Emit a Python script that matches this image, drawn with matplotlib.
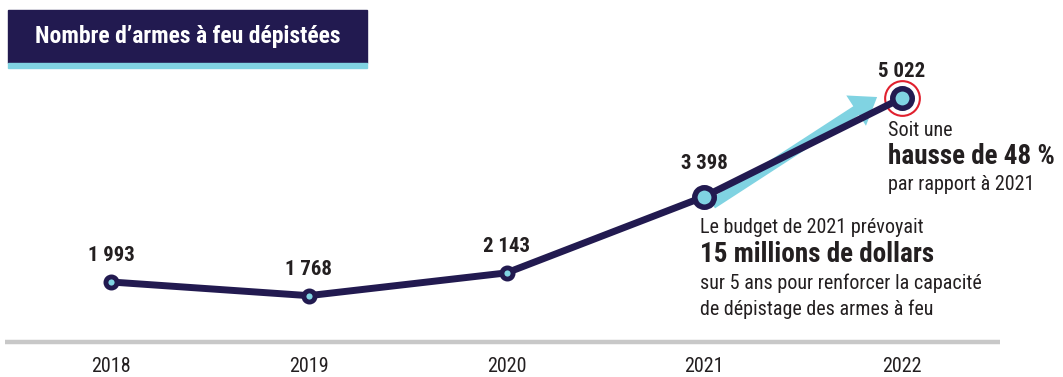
import matplotlib
matplotlib.use('Agg')
import matplotlib.pyplot as plt
from matplotlib.patches import Rectangle
from matplotlib import font_manager

# ------------------------------------------------------
# Nombre d'armes a feu depistees, 2018-2022
# ------------------------------------------------------

years = [2018, 2019, 2020, 2021, 2022]
values = [1993, 1768, 2143, 3398, 5022]
value_labels = ['1 993', '1 768', '2 143', '3 398', '5 022']
year_labels = ['2018', '2019', '2020', '2021', '2022']

title = 'Nombre d\u2019armes \u00e0 feu d\u00e9pist\u00e9es'
note_2022 = ['Soit une', 'hausse de 48 %', 'par rapport \u00e0 2021']
note_2021 = ['Le budget de 2021 pr\u00e9voyait', '15 millions de dollars',
             'sur 5 ans pour renforcer la capacit\u00e9',
             'de d\u00e9pistage des armes \u00e0 feu']

NAVY = '#221a50'
CYAN = '#80d3e2'
RED = '#e0202e'
TXT = '#231f20'

# pick a condensed family that has a real bold, else plain Liberation Sans
weights = {}
for f in font_manager.fontManager.ttflist:
    weights.setdefault(f.name, set()).add(f.weight)
FONT = 'Liberation Sans'
for cand in ['Roboto Condensed', 'Archivo Narrow', 'PT Sans Narrow',
             'Barlow Semi Condensed', 'Barlow Condensed', 'IBM Plex Sans Condensed',
             'Saira SemiCondensed']:
    w = weights.get(cand, set())
    if 400 in w and 700 in w:
        FONT = cand
        break
plt.rcParams['font.family'] = [FONT, 'DejaVu Sans']

W, H = 1063, 377
fig = plt.figure(figsize=(W / 100, H / 100), dpi=100)
ax = fig.add_axes([0, 0, 1, 1])
ax.set_xlim(2017.4387, 2022.814)
ax.set_ylim(429, 6635)
ax.axis('off')


def fx(px):
    return px / W


def fy(py):
    return 1 - py / H


# title box
fig.patches.append(Rectangle((fx(8), fy(63)), fx(367) - fx(8), fy(10) - fy(63),
                             transform=fig.transFigure, color=NAVY, zorder=0))
fig.patches.append(Rectangle((fx(8), fy(68)), fx(367) - fx(8), fy(63) - fy(68),
                             transform=fig.transFigure, color=CYAN, zorder=0))
fig.text(fx(188), fy(37), title, color='white', fontsize=17, fontweight='bold',
         ha='center', va='center')

# baseline
ax.plot([fx(5), fx(1000)], [fy(342), fy(342)], transform=ax.transAxes,
        color='#c8c8c8', lw=3.2, solid_capstyle='butt', zorder=1)

# cyan arrow from 2021 towards 2022
ax.annotate('', xy=(2021.874, 5038), xytext=(2021.04, 3277),
            arrowprops=dict(arrowstyle='simple,head_length=18,head_width=26,tail_width=7.5',
                            mutation_scale=1, lw=0, color=CYAN,
                            shrinkA=0, shrinkB=0), zorder=2)

# red ring around 2022
ax.plot(years[-1], values[-1], 'o', ms=25, mfc='none', mec=RED, mew=1.5, zorder=2)

# main line
ax.plot(years, values, color=NAVY, lw=5, solid_capstyle='round', zorder=3)
ax.plot(years[:3], values[:3], 'o', ms=8, mfc=CYAN, mec=NAVY, mew=3.5, zorder=4)
ax.plot(years[3:], values[3:], 'o', ms=14, mfc=CYAN, mec=NAVY, mew=4, zorder=4)

# value labels
offsets = [26, 26, 26, 33, 26]
for x, v, lab, off in zip(years, values, value_labels, offsets):
    ax.annotate(lab, (x, v), xytext=(0, off), textcoords='offset pixels',
                ha='center', va='center', fontsize=15, fontweight='bold', color=TXT)

# year labels
for x, lab in zip(years, year_labels):
    ax.text(x, fy(366), lab, transform=ax.get_xaxis_transform(),
            ha='center', va='center', fontsize=14.5, color=TXT)

# notes
fig.text(fx(888), fy(130), note_2022[0], fontsize=14.5, color=TXT, va='center')
fig.text(fx(888), fy(157), note_2022[1], fontsize=19.5, fontweight='bold', color=TXT, va='center')
fig.text(fx(888), fy(185), note_2022[2], fontsize=14.5, color=TXT, va='center')

fig.text(fx(700), fy(228), note_2021[0], fontsize=14.5, color=TXT, va='center')
fig.text(fx(700), fy(255), note_2021[1], fontsize=19.5, fontweight='bold', color=TXT, va='center')
fig.text(fx(700), fy(283), note_2021[2], fontsize=14.5, color=TXT, va='center')
fig.text(fx(700), fy(309), note_2021[3], fontsize=14.5, color=TXT, va='center')

fig.savefig('out.png', dpi=100, facecolor='white')
